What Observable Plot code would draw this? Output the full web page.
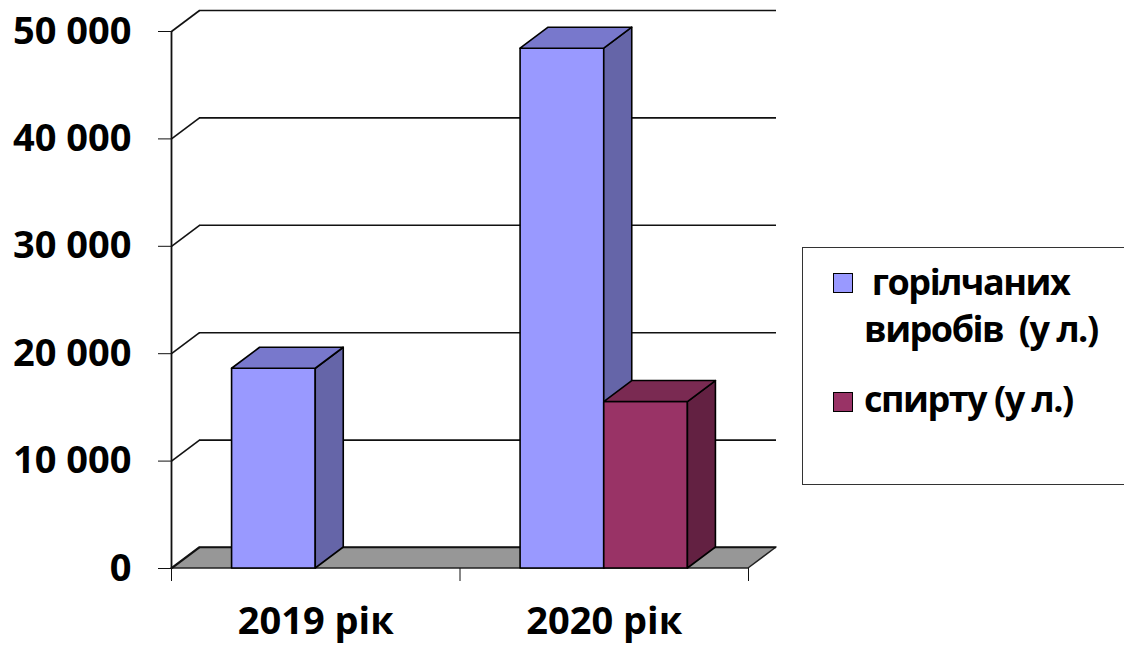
<!DOCTYPE html>
<html>
<head>
<meta charset="utf-8">
<script src="https://cdn.jsdelivr.net/npm/d3@7"></script>
<script src="https://cdn.jsdelivr.net/npm/@observablehq/plot@0.6"></script>
<style>
  body { margin: 0; background: #fff; }
  #wrap { position: relative; width: 1124px; height: 646px; overflow: hidden;
          font-family: "Open Sans", sans-serif; font-weight: 700; color: #000; }
  #chart { position: absolute; left: 0; top: 0; }
  #legend { position: absolute; left: 802px; top: 247px; width: 330px; height: 238px;
            border: 1px solid #333; box-sizing: border-box; }
  .item { position: absolute; left: 0; font-size: 36px; line-height: 47px; letter-spacing: -1.5px; white-space: pre-wrap; }
  .sw { position: absolute; width: 20px; height: 20px; border: 1.5px solid #000; box-sizing: border-box; }
  .lab { position: absolute; left: 61px; width: 250px; }
</style>
</head>
<body>
<div id="wrap"><div id="chart"></div><div id="legend"></div></div>
<script>
// ---- data ----
const years = ["2019 рік", "2020 рік"];
const seriesNames = [" горілчаних виробів  (у л.)", "спирту (у л.)"];
const vodkaValues = [18600, 48400];
const spiritValues = [null, 15500];
const yTicks = [0, 10000, 20000, 30000, 40000, 50000];

// ---- styles ----
const frontColors = ["#9999FF", "#993366"];
const sideColors  = ["#6565A8", "#632142"];
const topColors   = ["#7878CC", "#7A2A52"];

const W = 1124, H = 646;
const mL = 171, mR = 376, mT = 31, mB = 78;
const yMax = 50000;
const depthPxX = 28, depthPxY = 21;
const n = years.length;
const pxPerX = (W - mL - mR) / n;
const pxPerY = (H - mT - mB) / yMax;
const ddx = depthPxX / pxPerX;
const ddy = depthPxY / pxPerY;
const barW = 0.29;

const values = [vodkaValues, spiritValues];
const fmt = d => d3.format(",")(d).replace(/,/g, " ");

// build bars per series
const barMarks = [];
values.forEach((vals, j) => {
  const bars = [];
  vals.forEach((v, i) => {
    if (v == null) return;
    const x1 = i + 0.5 + (j - values.length / 2) * barW;
    bars.push({id: `${j}-${i}`, x1, x2: x1 + barW, v});
  });
  const sides = bars.flatMap(b => [
    {id: b.id, x: b.x2, y1: 0, y2: b.v},
    {id: b.id, x: b.x2 + ddx, y1: ddy, y2: b.v + ddy}
  ]);
  const tops = bars.flatMap(b => [
    {id: b.id, y: b.v, x1: b.x1, x2: b.x2},
    {id: b.id, y: b.v + ddy, x1: b.x1 + ddx, x2: b.x2 + ddx}
  ]);
  const st = {stroke: "#000", strokeWidth: 1.6, strokeLinejoin: "round"};
  barMarks.push(
    Plot.rect(bars, {x1: "x1", x2: "x2", y1: 0, y2: "v", fill: frontColors[j], ...st}),
    Plot.areaY(sides, {x: "x", y1: "y1", y2: "y2", z: "id", fill: sideColors[j], ...st}),
    Plot.areaX(tops, {y: "y", x1: "x1", x2: "x2", z: "id", fill: topColors[j], ...st})
  );
});

const floor = [
  {y: 0, x1: 0, x2: n},
  {y: ddy, x1: ddx, x2: n + ddx}
];

const chart = Plot.plot({
  width: W, height: H,
  marginLeft: mL, marginRight: mR, marginTop: mT, marginBottom: mB,
  style: {fontFamily: "'Open Sans', sans-serif", fontWeight: 700, fontSize: "38px", color: "#000", background: "transparent", overflow: "visible"},
  x: {type: "linear", domain: [0, n], axis: null},
  y: {domain: [0, yMax], axis: null},
  marks: [
    Plot.areaX(floor, {y: "y", x1: "x1", x2: "x2", fill: "#979797", stroke: "#222", strokeWidth: 1.5}),
    Plot.ruleY(yTicks, {dx: depthPxX, dy: -depthPxY, stroke: "#111", strokeWidth: 1.6}),
    Plot.link(yTicks, {x1: 0, x2: ddx, y1: d => d, y2: d => d + ddy, stroke: "#111", strokeWidth: 1.6}),
    Plot.ruleX([0], {y1: 0, y2: yMax, stroke: "#111", strokeWidth: 1.8}),
    Plot.axisX({ticks: d3.range(n + 1), tickFormat: () => "", tickSize: 13, stroke: "#111"}),
    Plot.axisY({ticks: yTicks, tickFormat: fmt, tickSize: 13, tickPadding: 27, stroke: "#111", fill: "#000"}),
    Plot.text(years, {x: (d, i) => i + 0.5, y: 0, dy: 53, text: d => d, textAnchor: "middle", lineAnchor: "middle", fill: "#000"}),
    ...barMarks
  ]
});
document.getElementById("chart").appendChild(chart);

// legend
const legend = document.getElementById("legend");
const itemTops = [9.5, 126.5];
seriesNames.forEach((name, j) => {
  const it = document.createElement("div");
  it.className = "item";
  it.style.top = itemTops[j] + "px";
  const sw = document.createElement("div");
  sw.className = "sw";
  sw.style.background = frontColors[j];
  sw.style.left = "30px";
  sw.style.top = j === 0 ? "15px" : "17px";
  const lab = document.createElement("div");
  lab.className = "lab";
  lab.textContent = name;
  it.appendChild(sw);
  it.appendChild(lab);
  legend.appendChild(it);
});
</script>
</body>
</html>
